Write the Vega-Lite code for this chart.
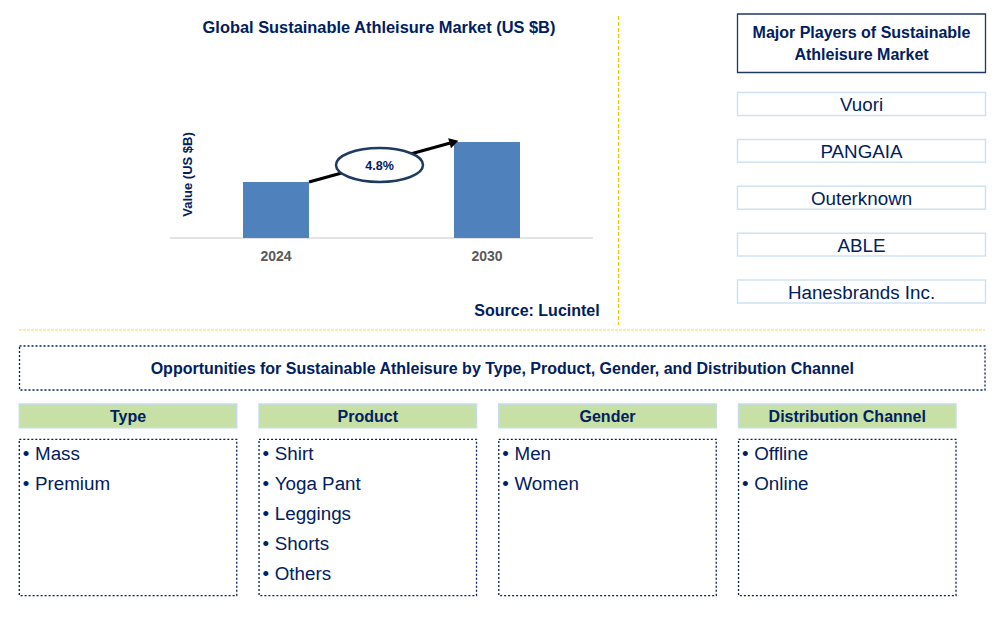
{
  "$schema": "https://vega.github.io/schema/vega-lite/v6.json",
  "width": 1005,
  "height": 617,
  "padding": 0,
  "autosize": {"type": "none"},
  "background": "#ffffff",
  "config": {"view": {"stroke": null}, "font": "Liberation Sans", "text": {"font": "Liberation Sans"}},
  "resolve": {"scale": {"x": "independent", "y": "independent"}},
  "layer": [
    {
      "data": {"values": [{"year": "2024", "value": 5.6}, {"year": "2030", "value": 9.6}]},
      "encoding": {
        "x": {"field": "year", "type": "nominal", "scale": {"type": "band", "domain": ["2024", "2030"], "range": [170, 593], "paddingInner": 0.687, "paddingOuter": 0.346}, "axis": null},
        "y": {"field": "value", "type": "quantitative", "scale": {"domain": [0, 10], "range": [238, 138]}, "axis": null}
      },
      "layer": [
        {
          "mark": {"type": "rule", "color": "#D9D9D9", "strokeWidth": 1.2},
          "encoding": {
            "x": {"datum": "2024", "bandPosition": -1.106},
            "x2": {"datum": "2030", "bandPosition": 2.106},
            "y": {"datum": 0}
          }
        },
        {"mark": {"type": "bar", "color": "#4F81BD"}},
        {
          "mark": {"type": "text", "fontSize": 14, "fontWeight": "bold", "color": "#595959", "align": "center", "baseline": "middle", "dy": 18.5},
          "encoding": {"y": {"datum": 0}, "text": {"field": "year"}}
        },
        {
          "data": {"values": [{"from": "2024", "to": "2030", "start": 5.6, "end": 9.6}]},
          "mark": {"type": "rule", "color": "#000000", "strokeWidth": 3},
          "encoding": {
            "x": {"field": "from", "type": "nominal", "bandPosition": 1},
            "x2": {"field": "to", "bandPosition": 0},
            "y": {"field": "start", "type": "quantitative"},
            "y2": {"field": "end"}
          }
        },
        {
          "data": {"values": [{"from": "2024", "to": "2030", "start": 5.6, "end": 9.6}]},
          "mark": {"type": "point", "shape": "triangle-right", "filled": true, "color": "#000000", "size": 110, "angle": 344.6, "opacity": 1},
          "encoding": {
            "x": {"field": "to", "type": "nominal", "bandPosition": 0},
            "y": {"field": "end", "type": "quantitative"}
          }
        }
      ]
    },
    {
      "data": {"values": [{"cagr": "4.8%"}]},
      "encoding": {
        "x": {"field": "cagr", "type": "nominal", "scale": {"type": "band", "range": [336, 423], "paddingInner": 0, "paddingOuter": 0}, "axis": null},
        "y": {"field": "cagr", "type": "nominal", "scale": {"type": "band", "range": [148, 182], "paddingInner": 0, "paddingOuter": 0}, "axis": null}
      },
      "layer": [
        {"mark": {"type": "point", "shape": "M-1,0A1,0.39,0,1,1,1,0A1,0.39,0,1,1,-1,0Z", "size": 7569, "filled": true, "fill": "#ffffff", "stroke": "#1F3A5F", "strokeWidth": 2.5, "opacity": 1}},
        {"mark": {"type": "text", "fontSize": 12.5, "fontWeight": "bold", "color": "#002060", "dy": 1}, "encoding": {"text": {"field": "cagr"}}}
      ]
    },
    {
      "data": {"values": [{"label": "Global Sustainable Athleisure Market (US $B)"}]},
      "mark": {"type": "text", "fontSize": 16.4, "fontWeight": "bold", "color": "#002060", "align": "center", "baseline": "middle", "dy": 1},
      "encoding": {
        "x": {"field": "label", "type": "nominal", "scale": {"type": "band", "range": [200, 558]}, "axis": null},
        "y": {"field": "label", "type": "nominal", "scale": {"type": "band", "range": [17, 37]}, "axis": null},
        "text": {"field": "label"}
      }
    },
    {
      "data": {"values": [{"label": "Value (US $B)"}]},
      "mark": {"type": "text", "fontSize": 13, "fontWeight": "bold", "color": "#002060", "align": "center", "baseline": "middle", "angle": 270},
      "encoding": {
        "x": {"field": "label", "type": "nominal", "scale": {"type": "band", "range": [181, 195]}, "axis": null},
        "y": {"field": "label", "type": "nominal", "scale": {"type": "band", "range": [132, 217]}, "axis": null},
        "text": {"field": "label"}
      }
    },
    {
      "data": {"values": [{"label": "Source: Lucintel"}]},
      "mark": {"type": "text", "fontSize": 16, "fontWeight": "bold", "color": "#002060", "align": "center", "baseline": "middle", "dy": 1},
      "encoding": {
        "x": {"field": "label", "type": "nominal", "scale": {"type": "band", "range": [475, 599]}, "axis": null},
        "y": {"field": "label", "type": "nominal", "scale": {"type": "band", "range": [300, 320]}, "axis": null},
        "text": {"field": "label"}
      }
    },
    {
      "data": {"values": [{"divider": "vertical", "from": "top", "to": "bottom"}]},
      "mark": {"type": "rule", "color": "#FFC000", "strokeWidth": 1.2, "strokeDash": [4, 2]},
      "encoding": {
        "x": {"field": "divider", "type": "nominal", "scale": {"type": "point", "range": [618, 619]}, "axis": null},
        "y": {"field": "from", "type": "nominal", "scale": {"type": "point", "domain": ["top", "bottom"], "range": [16, 325], "padding": 0}, "axis": null},
        "y2": {"field": "to"}
      }
    },
    {
      "data": {"values": [{"divider": "horizontal", "from": "left", "to": "right"}]},
      "mark": {"type": "rule", "color": "#FFC000", "opacity": 0.7, "strokeWidth": 1.2, "strokeDash": [3, 1]},
      "encoding": {
        "y": {"field": "divider", "type": "nominal", "scale": {"type": "point", "range": [329.5, 330.5]}, "axis": null},
        "x": {"field": "from", "type": "nominal", "scale": {"type": "point", "domain": ["left", "right"], "range": [19, 985], "padding": 0}, "axis": null},
        "x2": {"field": "to"}
      }
    },
    {
      "data": {"values": [{"title": "Major Players of Sustainable\nAthleisure Market"}]},
      "encoding": {
        "x": {"field": "title", "type": "nominal", "scale": {"type": "band", "range": [737.5, 985.5], "paddingInner": 0, "paddingOuter": 0}, "axis": null},
        "y": {"field": "title", "type": "nominal", "scale": {"type": "band", "range": [14, 72.5], "paddingInner": 0, "paddingOuter": 0}, "axis": null}
      },
      "layer": [
        {"mark": {"type": "rect", "fill": "#ffffff", "stroke": "#1F3864", "strokeWidth": 1.3}},
        {"mark": {"type": "text", "lineBreak": "\n", "lineHeight": 21.5, "fontSize": 16, "fontWeight": "bold", "color": "#002060", "align": "center", "baseline": "middle", "dy": -10}, "encoding": {"text": {"field": "title"}}}
      ]
    },
    {
      "data": {"values": [
        {"panel": "Major Players", "player": "Vuori"},
        {"panel": "Major Players", "player": "PANGAIA"},
        {"panel": "Major Players", "player": "Outerknown"},
        {"panel": "Major Players", "player": "ABLE"},
        {"panel": "Major Players", "player": "Hanesbrands Inc."}
      ]},
      "encoding": {
        "x": {"field": "panel", "type": "nominal", "scale": {"type": "band", "range": [737.5, 985.5], "paddingInner": 0, "paddingOuter": 0}, "axis": null},
        "y": {"field": "player", "type": "nominal", "scale": {"type": "band", "domain": ["Vuori", "PANGAIA", "Outerknown", "ABLE", "Hanesbrands Inc."], "range": [92.5, 303], "paddingInner": 0.51, "paddingOuter": 0}, "axis": null}
      },
      "layer": [
        {"mark": {"type": "rect", "fill": "#ffffff", "stroke": "#CFE2F3", "strokeWidth": 1.5}},
        {"mark": {"type": "text", "fontSize": 18.8, "color": "#002060", "align": "center", "baseline": "middle", "dy": 1.5}, "encoding": {"text": {"field": "player"}}}
      ]
    },
    {
      "data": {"values": [{"title": "Opportunities for Sustainable Athleisure by Type, Product, Gender, and Distribution Channel"}]},
      "encoding": {
        "x": {"field": "title", "type": "nominal", "scale": {"type": "band", "range": [19.5, 985], "paddingInner": 0, "paddingOuter": 0}, "axis": null},
        "y": {"field": "title", "type": "nominal", "scale": {"type": "band", "range": [346, 390], "paddingInner": 0, "paddingOuter": 0}, "axis": null}
      },
      "layer": [
        {"mark": {"type": "rect", "fill": "#ffffff", "stroke": "#002060", "strokeWidth": 1.3, "strokeDash": [2, 2]}},
        {"mark": {"type": "text", "fontSize": 16, "fontWeight": "bold", "color": "#002060", "align": "center", "baseline": "middle", "dy": 1}, "encoding": {"text": {"field": "title"}}}
      ]
    },
    {
      "encoding": {
        "x": {"field": "category", "type": "nominal", "scale": {"type": "band", "domain": ["Type", "Product", "Gender", "Distribution Channel"], "range": [19.3, 956], "paddingInner": 0.0929, "paddingOuter": 0}, "axis": null}
      },
      "resolve": {"scale": {"y": "independent"}},
      "layer": [
        {
          "data": {"values": [
            {"category": "Type", "role": "header"},
            {"category": "Product", "role": "header"},
            {"category": "Gender", "role": "header"},
            {"category": "Distribution Channel", "role": "header"}
          ]},
          "encoding": {
            "y": {"field": "role", "type": "nominal", "scale": {"type": "band", "range": [404, 427.7], "paddingInner": 0, "paddingOuter": 0}, "axis": null}
          },
          "layer": [
            {"mark": {"type": "rect", "fill": "#C6E0A5", "stroke": "#C5DCEF", "strokeWidth": 1.5}},
            {"mark": {"type": "text", "fontSize": 16, "fontWeight": "bold", "color": "#002060", "align": "center", "baseline": "middle", "dy": 1}, "encoding": {"text": {"field": "category"}}}
          ]
        },
        {
          "data": {"values": [
            {"category": "Type", "role": "list"},
            {"category": "Product", "role": "list"},
            {"category": "Gender", "role": "list"},
            {"category": "Distribution Channel", "role": "list"}
          ]},
          "mark": {"type": "rect", "fill": "#ffffff", "stroke": "#002060", "strokeWidth": 1.3, "strokeDash": [2, 2]},
          "encoding": {
            "y": {"field": "role", "type": "nominal", "scale": {"type": "band", "range": [439.3, 595.7], "paddingInner": 0, "paddingOuter": 0}, "axis": null}
          }
        },
        {
          "data": {"values": [
            {"category": "Type", "item": "Mass", "rank": 1},
            {"category": "Type", "item": "Premium", "rank": 2},
            {"category": "Product", "item": "Shirt", "rank": 1},
            {"category": "Product", "item": "Yoga Pant", "rank": 2},
            {"category": "Product", "item": "Leggings", "rank": 3},
            {"category": "Product", "item": "Shorts", "rank": 4},
            {"category": "Product", "item": "Others", "rank": 5},
            {"category": "Gender", "item": "Men", "rank": 1},
            {"category": "Gender", "item": "Women", "rank": 2},
            {"category": "Distribution Channel", "item": "Offline", "rank": 1},
            {"category": "Distribution Channel", "item": "Online", "rank": 2}
          ]},
          "encoding": {
            "x": {"field": "category", "type": "nominal", "bandPosition": 0, "axis": null},
            "y": {"field": "rank", "type": "quantitative", "scale": {"domain": [1, 5], "range": [452.7, 572.7]}, "axis": null}
          },
          "layer": [
            {"mark": {"type": "text", "fontSize": 18.8, "color": "#002060", "align": "left", "baseline": "middle", "dx": 3.5, "dy": 1.5}, "encoding": {"text": {"value": "•"}}},
            {"mark": {"type": "text", "fontSize": 18.8, "color": "#002060", "align": "left", "baseline": "middle", "dx": 15.7, "dy": 1.5}, "encoding": {"text": {"field": "item"}}}
          ]
        }
      ]
    }
  ]
}
